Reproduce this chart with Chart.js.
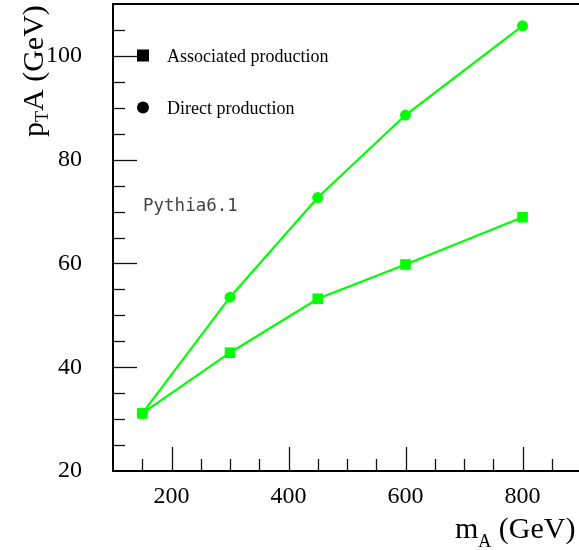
<!DOCTYPE html>
<html><head><meta charset="utf-8">
<script src="https://cdn.jsdelivr.net/npm/chart.js@4/dist/chart.umd.min.js"></script>
<style>html,body{margin:0;padding:0;overflow:hidden;background:#fff}
#wrap{position:relative;width:582px;height:550px}</style></head>
<body><div id="wrap"><canvas id="c"></canvas></div>
<script>
const massValues = [150, 300, 450, 600, 800];
const directProduction = [31.1, 53.5, 72.7, 88.6, 105.8];
const associatedProduction = [31.1, 42.8, 53.2, 59.8, 68.9];
const xTickValues = [200, 400, 600, 800];
const yTickValues = [20, 40, 60, 80, 100];
const legendLabels = ['Associated production', 'Direct production'];

const serif = '"Liberation Serif", "Times New Roman", serif';
const green = '#00ff00';

function drawRich(ctx, x, y, parts) {
  let cx = x;
  for (const [txt, size, dy] of parts) {
    ctx.font = size + 'px ' + serif;
    ctx.fillText(txt, cx, y + dy);
    cx += ctx.measureText(txt).width;
  }
}

function zeroPad(s) {
  s.paddingTop = 0; s.paddingBottom = 0; s.paddingLeft = 0; s.paddingRight = 0;
}

const framePlugin = {
  id: 'frame',
  afterDraw(chart) {
    const ctx = chart.ctx, a = chart.chartArea;
    const xs = chart.scales.x, ys = chart.scales.y;
    ctx.save();
    // top / right frame lines
    ctx.strokeStyle = '#000'; ctx.lineWidth = 2;
    ctx.beginPath(); ctx.moveTo(a.left - 1, a.top); ctx.lineTo(a.right + 2, a.top); ctx.stroke();
    ctx.beginPath(); ctx.moveTo(a.right, a.top); ctx.lineTo(a.right, a.bottom); ctx.stroke();
    // inward ticks
    ctx.strokeStyle = '#111'; ctx.lineWidth = 1.3;
    for (let v = 150; v < 900; v += 50) {
      const px = Math.round(xs.getPixelForValue(v)) + 0.5;
      const len = (v % 200 === 0) ? 24 : 12;
      ctx.beginPath(); ctx.moveTo(px, a.bottom); ctx.lineTo(px, a.bottom - len); ctx.stroke();
    }
    for (let v = 25; v < 110; v += 5) {
      const py = Math.round(ys.getPixelForValue(v)) + 0.5;
      const len = (v % 20 === 0) ? 24 : 12;
      ctx.beginPath(); ctx.moveTo(a.left, py); ctx.lineTo(a.left + len, py); ctx.stroke();
    }
    // legend
    ctx.fillStyle = '#000';
    const lx = a.left + 30;
    const ly1 = a.top + 51.5, ly2 = a.top + 103.5;
    ctx.fillRect(lx - 6, ly1 - 6, 12, 12);
    ctx.beginPath(); ctx.arc(lx, ly2, 6, 0, Math.PI * 2); ctx.fill();
    ctx.font = '18px ' + serif;
    ctx.textBaseline = 'alphabetic'; ctx.textAlign = 'left';
    ctx.fillText(legendLabels[0], a.left + 54, ly1 + 6);
    ctx.fillText(legendLabels[1], a.left + 54, ly2 + 6);
    // Pythia label
    ctx.fillStyle = '#444';
    ctx.font = '17.5px "DejaVu Sans Mono", monospace';
    ctx.fillText('Pythia6.1', a.left + 30, a.top + 207);
    // axis titles
    ctx.fillStyle = '#000';
    drawRich(ctx, 455, 538, [['m', 30, 0], ['A', 18, 9], [' (GeV)', 30, 0]]);
    ctx.translate(43, 137);
    ctx.rotate(-Math.PI / 2);
    drawRich(ctx, 0, 0, [['p', 30, 0], ['T', 18, 5], ['A (GeV)', 30, 0]]);
    ctx.restore();
  }
};

new Chart(document.getElementById('c'), {
  type: 'scatter',
  data: {
    datasets: [
      {
        label: legendLabels[1],
        data: massValues.map((m, i) => ({x: m, y: directProduction[i]})),
        showLine: true, borderColor: green, backgroundColor: green,
        borderWidth: 2.2, pointStyle: 'circle', pointRadius: 5.5, pointBorderWidth: 0
      },
      {
        label: legendLabels[0],
        data: massValues.map((m, i) => ({x: m, y: associatedProduction[i]})),
        showLine: true, borderColor: green, backgroundColor: green,
        borderWidth: 2.2, pointStyle: 'rect', pointRadius: 7.5, pointBorderWidth: 0
      }
    ]
  },
  options: {
    responsive: true, maintainAspectRatio: false, animation: false,
    layout: {autoPadding: false, padding: {top: 4, right: 1, left: 0, bottom: 0}},
    plugins: {legend: {display: false}, tooltip: {enabled: false}},
    scales: {
      x: {
        type: 'linear', min: 100, max: 900,
        afterBuildTicks: s => { s.ticks = xTickValues.map(v => ({value: v})); },
        afterFit: s => { s.height = 79; zeroPad(s); },
        ticks: {font: {family: serif, size: 24}, color: '#000', padding: 11, maxRotation: 0, autoSkip: false},
        grid: {drawOnChartArea: false, drawTicks: false},
        border: {color: '#000', width: 2}
      },
      y: {
        type: 'linear', min: 20, max: 110,
        afterBuildTicks: s => { s.ticks = yTickValues.map(v => ({value: v})); },
        afterFit: s => { s.width = 113; zeroPad(s); },
        ticks: {font: {family: serif, size: 24}, color: '#000', padding: 31, autoSkip: false},
        grid: {drawOnChartArea: false, drawTicks: false},
        border: {color: '#000', width: 2}
      }
    }
  },
  plugins: [framePlugin]
});
</script>
</body></html>
